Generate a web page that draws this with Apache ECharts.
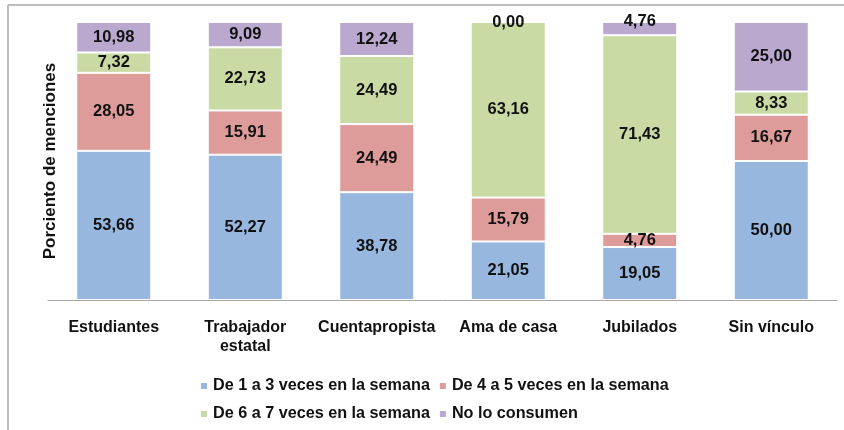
<!DOCTYPE html>
<html>
<head>
<meta charset="utf-8">
<script src="https://cdn.jsdelivr.net/npm/echarts@6/dist/echarts.min.js"></script>
<style>
  html, body { margin: 0; padding: 0; background: #fff; }
  #chart { width: 844px; height: 430px; }
</style>
</head>
<body>
<div id="chart"></div>
<script>
var categories = ['Estudiantes', 'Trabajador\nestatal', 'Cuentapropista', 'Ama de casa', 'Jubilados', 'Sin vínculo'];
var seriesNames = ['De 1 a 3 veces en la semana', 'De 4 a 5 veces en la semana', 'De 6 a 7 veces en la semana', 'No lo consumen'];
var de1a3 = [53.66, 52.27, 38.78, 21.05, 19.05, 50.00];
var de4a5 = [28.05, 15.91, 24.49, 15.79, 4.76, 16.67];
var de6a7 = [7.32, 22.73, 24.49, 63.16, 71.43, 8.33];
var noConsumen = [10.98, 9.09, 12.24, 0.00, 4.76, 25.00];
var colors = ['#97b7df', '#dd9c9a', '#cadaa5', '#baa8cf'];

var FONT = '"Liberation Sans", Arial, sans-serif';

// etiquetas que Excel sube por no caber dentro de la barra
var labelShift = { 4: { 3: [0, -7] } };

function buildData(values, si) {
    return values.map(function (v, i) {
        var d = { value: v };
        if (labelShift[i] && labelShift[i][si]) {
            d.label = { offset: labelShift[i][si] };
        }
        return d;
    });
}

var allValues = [de1a3, de4a5, de6a7, noConsumen];
var series = allValues.map(function (vals, si) {
    return {
        name: seriesNames[si],
        type: 'bar',
        stack: 'total',
        barWidth: 75,
        data: buildData(vals, si),
        itemStyle: { color: colors[si], borderColor: '#ffffff', borderWidth: 1 },
        label: {
            show: true,
            position: 'inside',
            color: '#111',
            fontFamily: FONT,
            fontSize: 16.5,
            fontWeight: 'bold',
            formatter: function (p) {
                return p.value.toFixed(2).replace('.', ',');
            }
        },
        emphasis: { disabled: true }
    };
});

var myChart = echarts.init(document.getElementById('chart'));
var option = {
    backgroundColor: '#ffffff',
    animation: false,
    grid: { left: 48, right: 7, top: 22, bottom: 130 },
    xAxis: {
        type: 'category',
        data: categories,
        axisLine: { lineStyle: { color: '#a6a6a6', width: 1 } },
        axisTick: { show: false },
        axisLabel: {
            margin: 18,
            color: '#111',
            fontFamily: FONT,
            fontSize: 16,
            fontWeight: 'bold',
            lineHeight: 19,
            interval: 0
        }
    },
    yAxis: {
        type: 'value',
        min: 0,
        max: 100,
        axisLine: { show: false },
        axisTick: { show: false },
        axisLabel: { show: false },
        splitLine: { show: false }
    },
    legend: {
        data: seriesNames,
        left: 194,
        top: 371,
        width: 500,
        itemWidth: 8,
        itemHeight: 8,
        itemGap: 8,
        icon: 'rect',
        textStyle: {
            color: '#111',
            fontFamily: FONT,
            fontSize: 16.2,
            fontWeight: 'bold',
            lineHeight: 20
        }
    },
    graphic: [
        { type: 'line', shape: { x1: 8, y1: 5, x2: 844, y2: 5 }, style: { stroke: '#a8a8a8', lineWidth: 1.5 } },
        { type: 'line', shape: { x1: 8, y1: 5, x2: 8, y2: 430 }, style: { stroke: '#a8a8a8', lineWidth: 1.5 } },
        {
            type: 'text',
            x: 50,
            y: 161,
            rotation: Math.PI / 2,
            style: {
                text: 'Porciento de menciones',
                fill: '#111',
                font: 'bold 17px "Liberation Sans", Arial, sans-serif',
                align: 'center',
                verticalAlign: 'middle'
            }
        }
    ],
    series: series
};

myChart.setOption(option);
window.addEventListener('resize', function () {
    myChart.resize();
});
</script>
</body>
</html>
